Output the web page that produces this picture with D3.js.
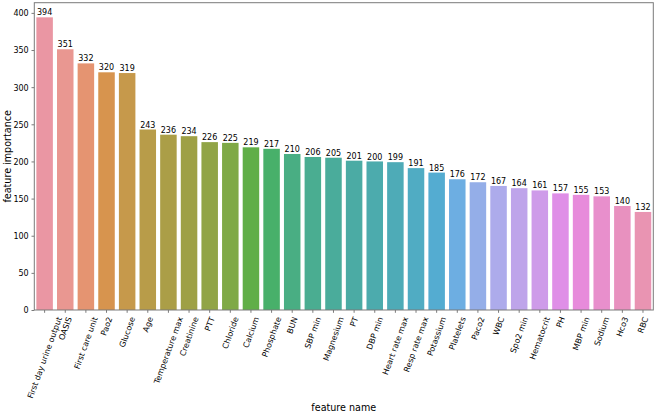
<!DOCTYPE html>
<html>
<head>
<meta charset="utf-8">
<script src="https://cdn.jsdelivr.net/npm/d3@7"></script>
<style>
  body { margin: 0; background: #fff; }
  text { font-family: "DejaVu Sans", sans-serif; fill: #000; }
</style>
</head>
<body>
<div id="chart"></div>
<script>
// Data
var features = ["First day urine output", "OASIS", "First care unit", "Pao2", "Glucose", "Age",
  "Temperature max", "Creatinine", "PTT", "Chloride", "Calcium", "Phosphate", "BUN", "SBP min",
  "Magnesium", "PT", "DBP min", "Heart rate max", "Resp rate max", "Potassium", "Platelets",
  "Paco2", "WBC", "Spo2 min", "Hematocrit", "PH", "MBP min", "Sodium", "Hco3", "RBC"];
var importance = [394, 351, 332, 320, 319, 243, 236, 234, 226, 225, 219, 217, 210, 206,
  205, 201, 200, 199, 191, 185, 176, 172, 167, 164, 161, 157, 155, 153, 140, 132];
var yTicks = [0, 50, 100, 150, 200, 250, 300, 350, 400];

var svgWidth = 656;
var svgHeight = 413;
var margin = { top: 2.7, right: 2.7, bottom: 103, left: 34.3 };
var width = svgWidth - margin.left - margin.right;
var height = svgHeight - margin.top - margin.bottom;

// husl palette (same maths as seaborn's husl module)
var M = [[3.2406, -1.5372, -0.4986], [-0.9689, 1.8758, 0.0415], [0.0557, -0.2040, 1.0570]];
var refU = 0.19784, refV = 0.46834, kappa = 903.3, epsilon = 0.008856;

function maxChroma(L, H) {
  var hrad = H / 360 * 2 * Math.PI;
  var sinH = Math.sin(hrad), cosH = Math.cos(hrad);
  var sub1 = Math.pow(L + 16, 3) / 1560896;
  var sub2 = sub1 > epsilon ? sub1 : L / kappa;
  var result = Infinity;
  M.forEach(function(row) {
    var m1 = row[0], m2 = row[1], m3 = row[2];
    var top = (0.99915 * m1 + 1.05122 * m2 + 1.14460 * m3) * sub2;
    var rbottom = 0.86330 * m3 - 0.17266 * m2;
    var lbottom = 0.12949 * m3 - 0.38848 * m1;
    var bottom = (rbottom * sinH + lbottom * cosH) * sub2;
    [0, 1].forEach(function(t) {
      var C = L * (top - 1.05122 * t) / (bottom + 0.17266 * sinH * t);
      if (C > 0 && C < result) result = C;
    });
  });
  return result;
}

function fromLinear(c) {
  return c <= 0.0031308 ? 12.92 * c : 1.055 * Math.pow(c, 1 / 2.4) - 0.055;
}

function huslToRgb(H, S, L) {
  var C = maxChroma(L, H) / 100 * S;
  var hrad = H / 360 * 2 * Math.PI;
  var U = Math.cos(hrad) * C, V = Math.sin(hrad) * C;
  var t = (L + 16) / 116;
  var varY = Math.pow(t, 3) > epsilon ? Math.pow(t, 3) : (116 * t - 16) / kappa;
  var varU = U / (13 * L) + refU;
  var varV = V / (13 * L) + refV;
  var Y = varY;
  var X = 0 - (9 * Y * varU) / ((varU - 4) * varV - varU * varV);
  var Z = (9 * Y - 15 * varV * Y - varV * X) / (3 * varV);
  return M.map(function(row) {
    var c = fromLinear(row[0] * X + row[1] * Y + row[2] * Z);
    return Math.max(0, Math.min(1, c));
  });
}

var n = features.length;
var colors = d3.range(n).map(function(i) {
  var h = ((i / n + 0.01) % 1) * 359;
  var rgb = huslToRgb(h, 0.9 * 99, 0.7 * 99);
  var c = d3.hsl(d3.rgb(rgb[0] * 255, rgb[1] * 255, rgb[2] * 255));
  c.s *= 0.75; // barplot saturation
  return c.formatHex();
});

var svg = d3.select("#chart")
  .append("svg")
  .attr("width", svgWidth)
  .attr("height", svgHeight);

var chartGroup = svg.append("g")
  .attr("transform", `translate(${margin.left}, ${margin.top})`);

// Scales
var xBandScale = d3.scaleBand()
  .domain(features)
  .range([0, width])
  .paddingInner(0.2)
  .paddingOuter(0.1);

var yLinearScale = d3.scaleLinear()
  .domain([0, d3.max(importance) * 1.05])
  .range([height, 0]);

// Bars
chartGroup.selectAll("rect.bar")
  .data(features)
  .enter()
  .append("rect")
  .attr("class", "bar")
  .attr("x", d => xBandScale(d))
  .attr("width", xBandScale.bandwidth())
  .attr("y", (d, i) => yLinearScale(importance[i]))
  .attr("height", (d, i) => height - yLinearScale(importance[i]))
  .attr("fill", (d, i) => colors[i]);

// Bar labels
chartGroup.selectAll("text.barlabel")
  .data(features)
  .enter()
  .append("text")
  .attr("class", "barlabel")
  .attr("x", d => xBandScale(d) + xBandScale.bandwidth() / 2)
  .attr("y", (d, i) => yLinearScale(importance[i]) - 1.9)
  .style("text-anchor", "middle")
  .style("font-size", "8px")
  .text((d, i) => importance[i]);

// Axes
var bottomAxis = d3.axisBottom(xBandScale).tickSize(2.8).tickFormat("");
var leftAxis = d3.axisLeft(yLinearScale).tickValues(yTicks).tickSize(2.8).tickPadding(2.8);

var xAxisGroup = chartGroup.append("g")
  .attr("transform", `translate(0, ${height})`)
  .call(bottomAxis);
xAxisGroup.select(".domain").remove();
xAxisGroup.selectAll("line").attr("stroke", "#7a7a7a");

var yAxisGroup = chartGroup.append("g")
  .call(leftAxis);
yAxisGroup.select(".domain").remove();
yAxisGroup.selectAll("line").attr("stroke", "#7a7a7a");
yAxisGroup.selectAll("text")
  .attr("dy", "0.36em")
  .style("font-size", "8px")
  .style("font-family", "DejaVu Sans")
  .attr("fill", "#000");

// Rotated x tick labels, bbox centred under each tick (like matplotlib ha=center)
var cos70 = Math.cos(70 * Math.PI / 180);
var sin70 = Math.sin(70 * Math.PI / 180);
var labelTop = height + 5.6;
var labelH = 8 * 1.17;
chartGroup.selectAll("text.xlabel")
  .data(features)
  .enter()
  .append("text")
  .attr("class", "xlabel")
  .style("font-size", "8px")
  .style("text-anchor", "end")
  .attr("dy", "0.35em")
  .text(d => d)
  .each(function(d) {
    var L = this.getComputedTextLength();
    var px = xBandScale(d) + xBandScale.bandwidth() / 2 + L * cos70 / 2;
    var py = labelTop + labelH / 2 * cos70;
    d3.select(this).attr("transform", `translate(${px}, ${py}) rotate(-70)`);
  });

// Frame
chartGroup.append("rect")
  .attr("x", 0)
  .attr("y", 0)
  .attr("width", width)
  .attr("height", height)
  .attr("fill", "none")
  .attr("stroke", "#7a7a7a")
  .attr("stroke-width", 1);

// Axis titles
chartGroup.append("text")
  .attr("transform", "rotate(-90)")
  .attr("y", 11 - margin.left)
  .attr("x", 0 - (height / 2))
  .style("text-anchor", "middle")
  .style("font-size", "9.6px")
  .text("feature importance");

chartGroup.append("text")
  .attr("transform", `translate(${width / 2}, ${svgHeight - margin.top - 1.8})`)
  .style("text-anchor", "middle")
  .style("font-size", "9.6px")
  .text("feature name");
</script>
</body>
</html>
